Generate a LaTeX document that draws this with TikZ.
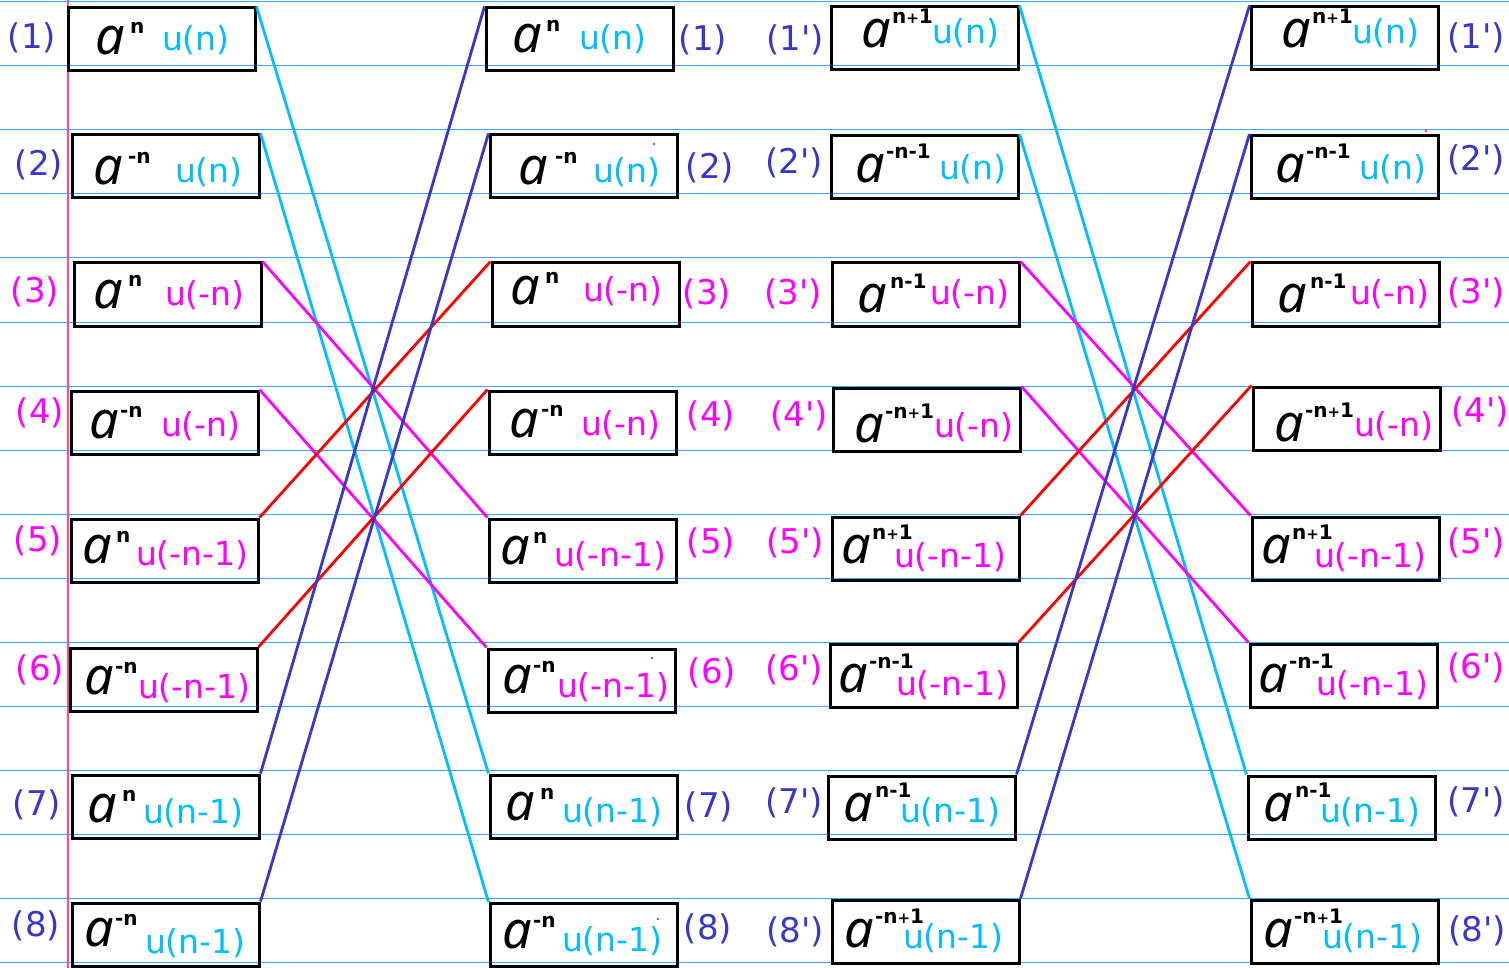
\documentclass[tikz,border=0pt]{standalone}
\usepackage{fontspec}
\setmainfont{DejaVu Sans}[Ligatures=TeXOff]
\newfontfamily\afont{Noto Sans}
\definecolor{ruleblue}{RGB}{70,160,255}
\definecolor{marginpink}{RGB}{255,70,160}
\definecolor{labblue}{RGB}{55,55,200}
\definecolor{mag}{RGB}{255,0,255}
\definecolor{ucyan}{RGB}{0,190,255}
\definecolor{lred}{RGB}{255,0,0}
\newcommand{\pl}{{\fontsize{15}{15}\selectfont +}}
\newcommand{\suprise}{21}
% #1 pad, #2 sup offset, #3 sup, #4 u offset, #5 u raise, #6 baseline below top, #7 colour, #8 text
\newcommand{\cell}[8]{\makebox[187pt][l]{\rule[\numexpr#6-63\relax pt]{0pt}{63pt}\kern#1pt\rlap{\afont\itshape\fontsize{52}{52}\selectfont a}\kern#2pt\rlap{\raisebox{\suprise pt}{\fontsize{20}{20}\selectfont\bfseries #3}}\kern\numexpr#4-#1-#2\relax pt\raisebox{#5pt}{\textcolor{#7}{\fontsize{33}{36}\selectfont #8}}}}
\begin{document}
\begin{tikzpicture}[x=1pt,y=-1pt,
  box/.style={draw=black,line width=3pt,minimum width=187pt,minimum height=63pt,inner sep=0pt},
  lab/.style={font=\fontsize{34}{38}\selectfont,inner sep=0pt},
  conn/.style={line width=2.8pt},
  ruleline/.style={draw=ruleblue,line width=1pt}]
\useasboundingbox (0,0) rectangle (1509,968);
\foreach \k in {0,...,15} \draw[ruleline] (0,{2+64*\k}) -- (1509,{2+64*\k});
\draw[marginpink,line width=1.2pt] (68,0) -- (68,968);
% column 1
\node[box] (L1) at (161.5,39.5) {\cell{27}{35}{n}{94}{4}{47}{ucyan}{u(n)}};
\node[box] (L2) at (165.5,166.5) {\cell{21}{35}{-n}{103}{2}{50}{ucyan}{u(n)}};
\node[box] (L3) at (167.5,294.5) {\cell{19}{35}{n}{91}{2}{45}{mag}{u(-n)}};
\node[box] (L4) at (164.5,422.5) {\cell{18}{31}{-n}{90}{2}{47}{mag}{u(-n)}};
\node[box] (L5) at (164.5,550.5) {\cell{11}{34}{n}{65}{-2}{44}{mag}{u(-n-1)}};
\node[box] (L6) at (163.5,680) {\cell{14}{31}{-n}{68}{-4}{46}{mag}{u(-n-1)}};
\node[box] (L7) at (165.5,806.5) {\cell{15}{35}{n}{71}{-1}{47}{ucyan}{u(n-1)}};
\node[box] (L8) at (165.5,934.5) {\cell{12}{31}{-n}{73}{-7}{43}{ucyan}{u(n-1)}};
% column 2
\node[box] (M1) at (579.5,39.5) {\cell{26}{34}{n}{93}{3}{45}{ucyan}{u(n)}};
\node[box] (M2) at (583.5,166.5) {\cell{28}{37}{-n}{103}{2}{50}{ucyan}{u(n)}};
\node[box] (M3) at (585.5,294.5) {\cell{18}{35}{n}{91}{3}{42}{mag}{u(-n)}};
\node[box] (M4) at (582.5,422.5) {\cell{20}{32}{-n}{92}{2}{46}{mag}{u(-n)}};
\node[box] (M5) at (582.5,550.5) {\cell{11}{33}{n}{65}{-2}{45}{mag}{u(-n-1)}};
\node[box] (M6) at (581.5,680.5) {\cell{14}{31}{-n}{69}{-4}{44}{mag}{u(-n-1)}};
\node[box] (M7) at (583.5,806.5) {\cell{15}{35}{n}{72}{-2}{45}{ucyan}{u(n-1)}};
\node[box] (M8) at (583.5,935) {\cell{12}{31}{-n}{72}{-3}{45}{ucyan}{u(n-1)}};
% column 3
\renewcommand{\suprise}{24}
\node[box] (P1) at (924.5,38.5) {\cell{30}{31}{n\pl1}{101}{4}{41}{ucyan}{u(n)}};
\node[box] (P2) at (924.5,167) {\cell{24}{31}{-n-1}{108}{3}{47}{ucyan}{u(n)}};
\node[box] (P3) at (925.5,294.5) {\cell{25}{33}{n-1}{98}{7}{49}{mag}{u(-n)}};
\node[box] (P4) at (926.5,419.5) {\cell{21}{31}{-n\pl1}{101}{5}{54}{mag}{u(-n)}};
\node[box] (P5) at (925.5,548.5) {\cell{9}{31}{n\pl1}{62}{-4}{46}{mag}{u(-n-1)}};
\node[box] (P6) at (923.5,675.5) {\cell{8}{31}{-n-1}{66}{-3}{48}{mag}{u(-n-1)}};
\node[box] (P7) at (921.5,807.5) {\cell{15}{32}{n-1}{72}{-1}{45}{ucyan}{u(n-1)}};
\node[box] (P8) at (925.5,931.5) {\cell{12}{31}{-n\pl1}{71}{-1}{47}{ucyan}{u(n-1)}};
% column 4
\node[box] (Q1) at (1344.5,38.5) {\cell{30}{31}{n\pl1}{101}{4}{41}{ucyan}{u(n)}};
\node[box] (Q2) at (1344.5,167) {\cell{24}{31}{-n-1}{108}{3}{47}{ucyan}{u(n)}};
\node[box] (Q3) at (1345.5,294.5) {\cell{25}{33}{n-1}{98}{7}{49}{mag}{u(-n)}};
\node[box] (Q4) at (1346.5,418.5) {\cell{21}{31}{-n\pl1}{101}{5}{54}{mag}{u(-n)}};
\node[box] (Q5) at (1345.5,548.5) {\cell{9}{31}{n\pl1}{62}{-4}{46}{mag}{u(-n-1)}};
\node[box] (Q6) at (1343.5,675.5) {\cell{8}{31}{-n-1}{66}{-3}{48}{mag}{u(-n-1)}};
\node[box] (Q7) at (1341.5,807.5) {\cell{15}{32}{n-1}{72}{-1}{45}{ucyan}{u(n-1)}};
\node[box] (Q8) at (1344.5,931.5) {\cell{12}{31}{-n\pl1}{71}{-1}{47}{ucyan}{u(n-1)}};
% labels column 1
\node[lab,labblue] (l1) at (32,38) {(1)};
\node[lab,labblue] (l2) at (39,165) {(2)};
\node[lab,mag] (l3) at (35,292) {(3)};
\node[lab,mag] (l4) at (40,413) {(4)};
\node[lab,mag] (l5) at (38,541) {(5)};
\node[lab,mag] (l6) at (40,670) {(6)};
\node[lab,labblue] (l7) at (37,805) {(7)};
\node[lab,labblue] (l8) at (36,926) {(8)};
% labels column 2
\node[lab,labblue] (m1) at (703,40) {(1)};
\node[lab,labblue] (m2) at (710,168) {(2)};
\node[lab,mag] (m3) at (707,294) {(3)};
\node[lab,mag] (m4) at (711,416) {(4)};
\node[lab,mag] (m5) at (711,543) {(5)};
\node[lab,mag] (m6) at (712,673) {(6)};
\node[lab,labblue] (m7) at (709,807) {(7)};
\node[lab,labblue] (m8) at (708,929) {(8)};
% labels column 3
\node[lab,labblue] (p1) at (795,40) {(1')};
\node[lab,labblue] (p2) at (794,163) {(2')};
\node[lab,mag] (p3) at (793,294) {(3')};
\node[lab,mag] (p4) at (799,416) {(4')};
\node[lab,mag] (p5) at (795,543) {(5')};
\node[lab,mag] (p6) at (794,670) {(6')};
\node[lab,labblue] (p7) at (794,803) {(7')};
\node[lab,labblue] (p8) at (795,932) {(8')};
% labels column 4
\node[lab,labblue] (q1) at (1476,38) {(1')};
\node[lab,labblue] (q2) at (1476,160) {(2')};
\node[lab,mag] (q3) at (1476,293) {(3')};
\node[lab,mag] (q4) at (1480,412) {(4')};
\node[lab,mag] (q5) at (1476,543) {(5')};
\node[lab,mag] (q6) at (1476,668) {(6')};
\node[lab,labblue] (q7) at (1476,802) {(7')};
\node[lab,labblue] (q8) at (1477,931) {(8')};
% connectors col1 -> col2
\draw[conn,ucyan] (L1.north east) -- (M7.north west);
\draw[conn,ucyan] (L2.north east) -- (M8.north west);
\draw[conn,mag] (L3.north east) -- (M5.north west);
\draw[conn,mag] (L4.north east) -- (M6.north west);
\draw[conn,lred] (L5.north east) -- (M3.north west);
\draw[conn,lred] (L6.north east) -- (M4.north west);
\draw[conn,labblue] (L7.north east) -- (M1.north west);
\draw[conn,labblue] (L8.north east) -- (M2.north west);
% connectors col3 -> col4
\draw[conn,ucyan] (P1.north east) -- (Q7.north west);
\draw[conn,ucyan] (P2.north east) -- (Q8.north west);
\draw[conn,mag] (P3.north east) -- (Q5.north west);
\draw[conn,mag] (P4.north east) -- (Q6.north west);
\draw[conn,lred] (P5.north east) -- (Q3.north west);
\draw[conn,lred] (P6.north east) -- (Q4.north west);
\draw[conn,labblue] (P7.north east) -- (Q1.north west);
\draw[conn,labblue] (P8.north east) -- (Q2.north west);
% stray dots
\fill[lred] (654,144) circle (1.2pt);
\fill[lred] (652,658) circle (1.2pt);
\fill[lred] (658,919) circle (1.2pt);
\fill[lred] (1426,131) circle (1.2pt);
\end{tikzpicture}
\end{document}
